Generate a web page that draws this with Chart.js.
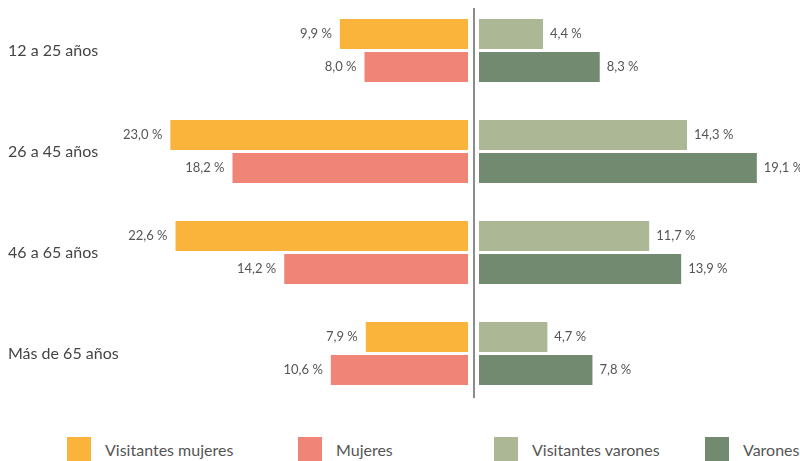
<!DOCTYPE html>
<html>
<head>
<meta charset="utf-8">
<script src="https://cdn.jsdelivr.net/npm/chart.js@4.4.1/dist/chart.umd.min.js"></script>
<style>
  body { margin: 0; background: #fff; overflow: hidden; width: 800px; height: 461px; position: relative; font-family: Lato, sans-serif; }
  #left { position: absolute; left: 0; top: 0; }
  #right { position: absolute; left: 474px; top: 0; }
  #axisLine { position: absolute; left: 473px; top: 8px; width: 2px; height: 390px; background: #8c8c8c; }
  .leg { position: absolute; top: 437px; height: 30px; }
  .leg span.box { position: absolute; left: 0; top: 0; width: 24px; height: 30px; }
  .leg span.txt { position: absolute; top: 3px; white-space: nowrap; font-size: 16px; color: #555; }
</style>
</head>
<body>
<canvas id="left" width="470" height="404"></canvas>
<canvas id="right" width="326" height="404"></canvas>
<div id="axisLine"></div>
<div id="legend"></div>
<script>
var categories = ["12 a 25 años", "26 a 45 años", "46 a 65 años", "Más de 65 años"];
var visitantesMujeres = [9.9, 23.0, 22.6, 7.9];
var mujeres = [8.0, 18.2, 14.2, 10.6];
var visitantesVarones = [4.4, 14.3, 11.7, 4.7];
var varones = [8.3, 19.1, 13.9, 7.8];

var seriesNames = ["Visitantes mujeres", "Mujeres", "Visitantes varones", "Varones"];
var seriesColors = ["#fbb43b", "#f08477", "#abb795", "#728b70"];

function fmt(v) {
  return v.toFixed(1).replace(".", ",") + " %";
}

// draws the value next to the end of each bar
var valueLabels = {
  id: "valueLabels",
  afterDatasetsDraw: function(chart, args, opts) {
    var ctx = chart.ctx;
    ctx.save();
    ctx.font = "13px Lato";
    ctx.fillStyle = "#555";
    ctx.textBaseline = "middle";
    chart.data.datasets.forEach(function(ds, di) {
      var meta = chart.getDatasetMeta(di);
      meta.data.forEach(function(bar, i) {
        if (opts.side == "left") {
          ctx.textAlign = "right";
          ctx.fillText(fmt(ds.data[i]), bar.x - 8, bar.y);
        } else {
          ctx.textAlign = "left";
          ctx.fillText(fmt(ds.data[i]), bar.x + 7, bar.y);
        }
      });
    });
    ctx.restore();
  }
};

function barSet(label, data, color) {
  return {
    label: label,
    data: data,
    backgroundColor: color,
    borderWidth: 0,
    categoryPercentage: 0.653,
    barPercentage: 0.91
  };
}

var leftChart = new Chart(document.getElementById("left"), {
  type: "bar",
  data: {
    labels: categories,
    datasets: [
      barSet(seriesNames[0], visitantesMujeres, seriesColors[0]),
      barSet(seriesNames[1], mujeres, seriesColors[1])
    ]
  },
  options: {
    indexAxis: "y",
    responsive: false,
    animation: false,
    layout: { padding: { left: 8, right: 2, top: 0, bottom: 0 } },
    plugins: {
      legend: { display: false },
      tooltip: { enabled: false },
      valueLabels: { side: "left" }
    },
    scales: {
      x: { display: false, reverse: true, min: 0, max: 23.8 },
      y: {
        grid: { display: false },
        border: { display: false },
        afterFit: function(scale) {
          scale.width = 152;
          scale.paddingTop = 0;
          scale.paddingBottom = 0;
        },
        ticks: {
          crossAlign: "far",
          color: "#444",
          font: { family: "Lato", size: 16 }
        }
      }
    }
  },
  plugins: [valueLabels]
});

var rightChart = new Chart(document.getElementById("right"), {
  type: "bar",
  data: {
    labels: categories,
    datasets: [
      barSet(seriesNames[2], visitantesVarones, seriesColors[2]),
      barSet(seriesNames[3], varones, seriesColors[3])
    ]
  },
  options: {
    indexAxis: "y",
    responsive: false,
    animation: false,
    layout: { padding: { left: 5, right: 1, top: 0, bottom: 0 } },
    plugins: {
      legend: { display: false },
      tooltip: { enabled: false },
      valueLabels: { side: "right" }
    },
    scales: {
      x: { display: false, min: 0, max: 22 },
      y: { display: false }
    }
  },
  plugins: [valueLabels]
});

// legend along the bottom
var legPos = [67, 298, 494, 705];
var legHtml = "";
for (var i = 0; i < seriesNames.length; i++) {
  legHtml += "<div class='leg' style='left:" + legPos[i] + "px'><span class='box' style='background:" + seriesColors[i] + "'></span><span class='txt' style='left:38px'>" + seriesNames[i] + "</span></div>";
}
document.getElementById("legend").innerHTML = legHtml;
</script>
</body>
</html>
